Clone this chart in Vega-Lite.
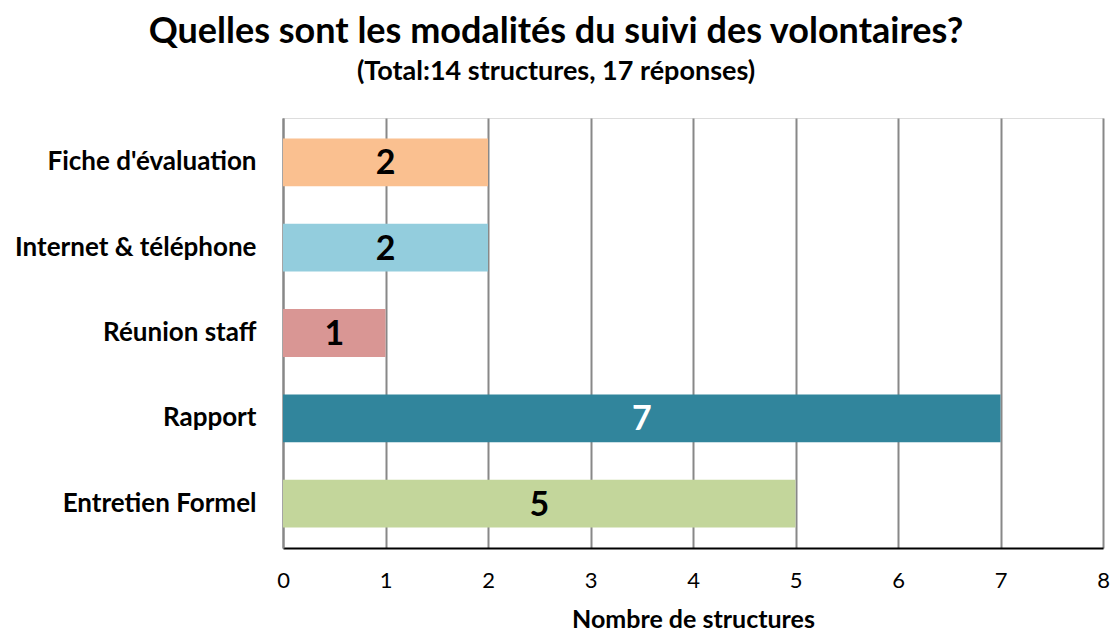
{
  "$schema": "https://vega.github.io/schema/vega-lite/v6.json",
  "autosize": "none",
  "width": 820,
  "height": 430,
  "padding": {"left": 283, "top": 118, "right": 9, "bottom": 84},
  "background": "white",
  "title": {
    "text": "Quelles sont les modalités du suivi des volontaires?",
    "subtitle": "(Total:14 structures, 17 réponses)",
    "anchor": "middle",
    "dx": -137,
    "offset": 32,
    "font": "Lato",
    "fontSize": 36,
    "fontWeight": "bold",
    "color": "black",
    "subtitleFont": "Lato",
    "subtitleFontSize": 27,
    "subtitleFontWeight": "bold",
    "subtitleColor": "black",
    "subtitlePadding": 8
  },
  "data": {
    "values": [
      {"modalite": "Fiche d'évaluation", "n": 2},
      {"modalite": "Internet & téléphone", "n": 2},
      {"modalite": "Réunion staff", "n": 1},
      {"modalite": "Rapport", "n": 7},
      {"modalite": "Entretien Formel", "n": 5}
    ]
  },
  "encoding": {
    "y": {
      "field": "modalite",
      "type": "nominal",
      "sort": null,
      "scale": {"paddingInner": 0.44, "paddingOuter": 0.24},
      "axis": {
        "title": null,
        "labelFont": "Lato",
        "labelFontSize": 26,
        "labelFontWeight": "bold",
        "labelColor": "black",
        "labelPadding": 27,
        "labelLimit": 400,
        "ticks": false,
        "domainColor": "#888888",
        "domainWidth": 2,
        "grid": false
      }
    }
  },
  "layer": [
    {
      "mark": {"type": "bar"},
      "encoding": {
        "x": {
          "field": "n",
          "type": "quantitative",
          "scale": {"domain": [0, 8], "nice": false},
          "axis": {
            "title": "Nombre de structures",
            "titleFont": "Lato",
            "titleFontSize": 25,
            "titleFontWeight": "bold",
            "titleColor": "black",
            "titlePadding": 16,
            "values": [0, 1, 2, 3, 4, 5, 6, 7, 8],
            "format": "d",
            "labelFont": "Lato",
            "labelFontSize": 22,
            "labelColor": "black",
            "labelPadding": 22,
            "labelFlush": false,
            "ticks": false,
            "domainColor": "black",
            "domainWidth": 2,
            "grid": true,
            "gridColor": "#888888",
            "gridWidth": 2
          }
        },
        "color": {
          "field": "modalite",
          "type": "nominal",
          "scale": {
            "domain": ["Fiche d'évaluation", "Internet & téléphone", "Réunion staff", "Rapport", "Entretien Formel"],
            "range": ["#FAC090", "#93CDDD", "#D99694", "#31859C", "#C3D69B"]
          },
          "legend": null
        }
      }
    },
    {
      "transform": [{"calculate": "datum.n / 2", "as": "half"}],
      "mark": {"type": "text", "font": "Lato", "fontSize": 34, "fontWeight": "bold", "baseline": "middle", "align": "center", "dy": 2},
      "encoding": {
        "x": {"field": "half", "type": "quantitative"},
        "text": {"field": "n", "type": "quantitative"},
        "color": {
          "condition": {"test": "datum.n == 7", "value": "white"},
          "value": "black"
        }
      }
    }
  ]
}
